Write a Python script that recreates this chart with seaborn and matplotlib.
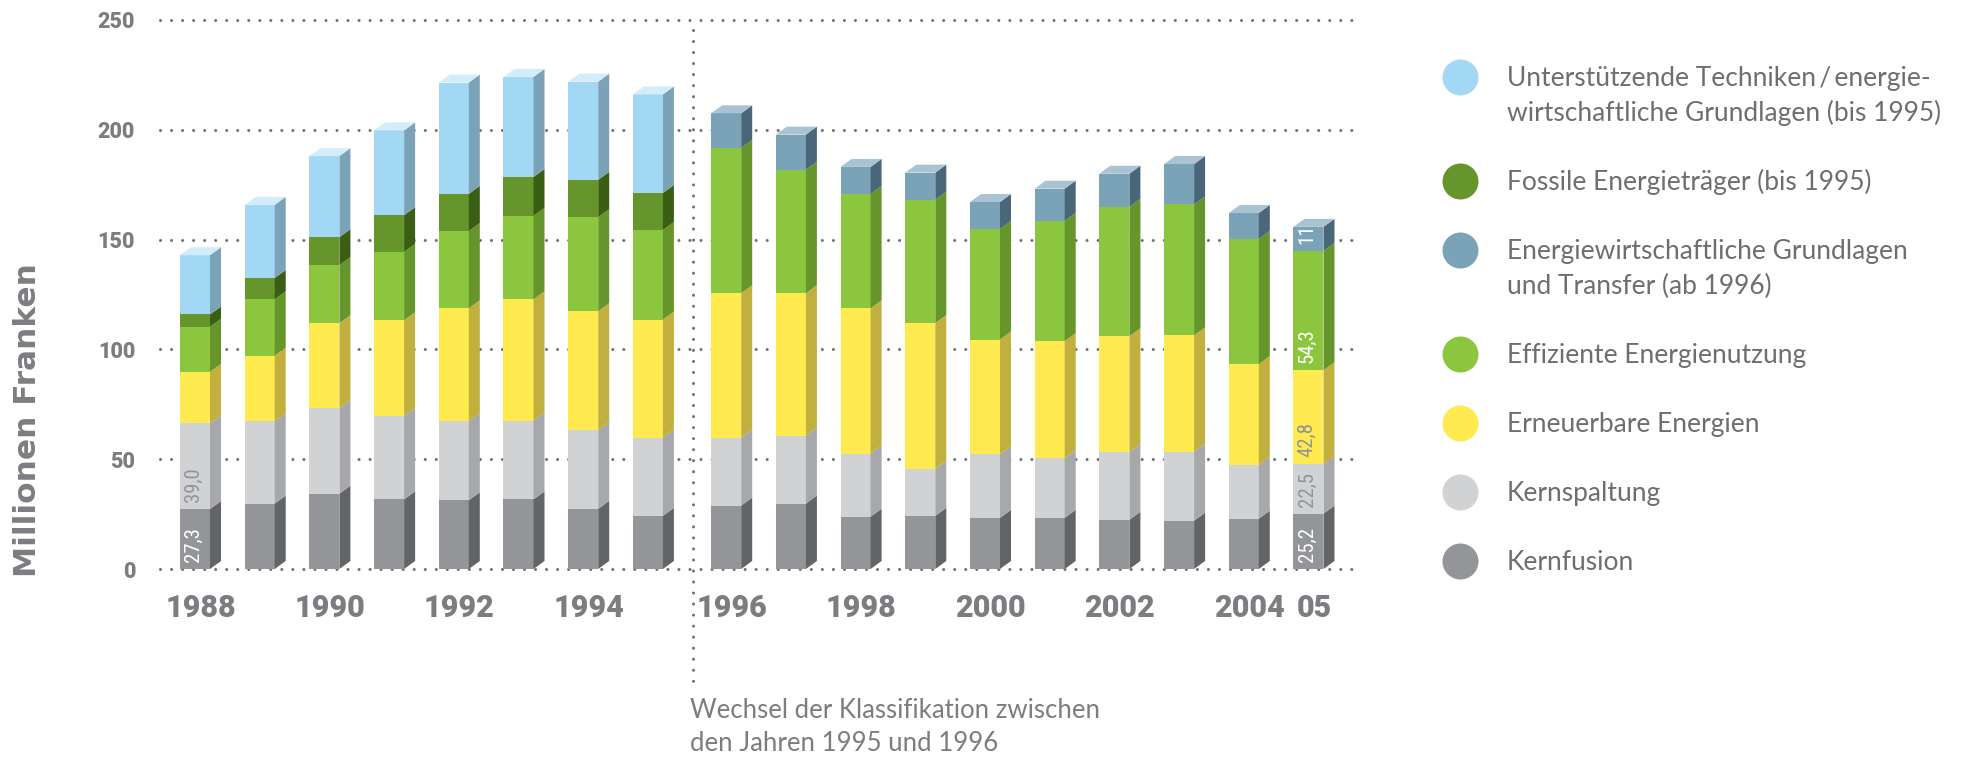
import numpy as np
import matplotlib
matplotlib.use("Agg")
import matplotlib.pyplot as plt
from matplotlib import font_manager
from matplotlib.patches import Polygon
from matplotlib.transforms import blended_transform_factory
import seaborn as sns

# ---------------- data ----------------
years = [1988, 1989, 1990, 1991, 1992, 1993, 1994, 1995, 1996,
         1997, 1998, 1999, 2000, 2001, 2002, 2003, 2004, 2005]
kernfusion = [27.3, 29.8, 34.3, 31.7, 31.3, 31.7, 27.4, 24.2, 28.9,
              29.8, 23.8, 24.2, 23.3, 23.3, 22.4, 22.0, 22.9, 25.2]
kernspaltung = [39.0, 37.5, 38.9, 38.0, 36.0, 35.9, 35.8, 35.6, 30.9,
                30.9, 28.7, 21.4, 28.9, 27.2, 30.7, 31.5, 24.6, 22.5]
erneuerbare = [23.5, 29.9, 38.8, 43.6, 51.4, 55.2, 54.2, 53.8, 65.8,
               64.9, 66.2, 66.4, 52.3, 53.3, 52.9, 52.9, 45.8, 42.8]
effiziente = [20.5, 25.6, 26.4, 31.1, 35.2, 38.0, 42.8, 40.8, 66.1,
              56.2, 52.1, 56.2, 50.3, 54.7, 58.9, 59.6, 57.0, 54.3]
grundlagen_ab1996 = [0, 0, 0, 0, 0, 0, 0, 0, 15.8,
                     16.0, 12.3, 12.3, 12.3, 14.7, 15.1, 18.4, 11.8, 11.0]
fossile_bis1995 = [5.6, 9.7, 12.7, 16.7, 16.9, 17.7, 17.0, 16.8, 0,
                   0, 0, 0, 0, 0, 0, 0, 0, 0]
techniken_bis1995 = [27.0, 33.3, 36.9, 38.6, 50.7, 45.6, 44.7, 44.9, 0,
                     0, 0, 0, 0, 0, 0, 0, 0, 0]

tick_years = [1988, 1990, 1992, 1994, 1996, 1998, 2000, 2002, 2004, 2005]
tick_labels = ["1988", "1990", "1992", "1994", "1996", "1998", "2000", "2002", "2004", "05"]

legend_labels = [
    "Unterstützende Techniken\u2009/\u2009energie-\nwirtschaftliche Grundlagen (bis 1995)",
    "Fossile Energieträger (bis 1995)",
    "Energiewirtschaftliche Grundlagen\nund Transfer (ab 1996)",
    "Effiziente Energienutzung",
    "Erneuerbare Energien",
    "Kernspaltung",
    "Kernfusion",
]
note_text = "Wechsel der Klassifikation zwischen\nden Jahren 1995 und 1996"
y_title = "Millionen Franken"
# which segments carry a value label, per year
value_labels = {1988: ["Kernfusion", "Kernspaltung"],
                2005: ["Kernfusion", "Kernspaltung", "Erneuerbare", "Effiziente", "Grundlagen"]}

# ---------------- style ----------------
sns.set_theme(style="white")
avail = {f.name for f in font_manager.fontManager.ttflist}
def pick(*names):
    for n in names:
        if n in avail:
            return n
    return "DejaVu Sans"
BOLD = pick("Roboto", "Lato", "DejaVu Sans")
REG = pick("Lato", "Roboto", "DejaVu Sans")
NARROW = pick("Liberation Sans Narrow", "DejaVu Sans Condensed", "Roboto Condensed", "Liberation Sans")
plt.rcParams["font.family"] = [REG, "DejaVu Sans"]

TXT = "#7c7d80"
DOT = "#707174"

W, H = 1963, 757
fig = plt.figure(figsize=(W / 100, H / 100), dpi=100)
ax = fig.add_axes([160 / W, 1 - 569 / H, (1353 - 160) / W, (569 - 20) / H])

# x positions: gap between 1995 and 1996 (classification change)
yrs = np.array(years, dtype=float)
xpos = yrs + 0.21 * (yrs >= 1996)

series = [
    ("Kernfusion", kernfusion, "#939598", "#636466", "#b5b6b8", "white", 1),
    ("Kernspaltung", kernspaltung, "#d1d2d4", "#a7a8ab", "#e4e5e6", "#939598", 1),
    ("Erneuerbare", erneuerbare, "#ffea50", "#c1b03e", "#fff4a0", "#939598", 1),
    ("Effiziente", effiziente, "#8cc63f", "#66962b", "#b9dd88", "white", 1),
    ("Grundlagen", grundlagen_ab1996, "#7aa3b8", "#4a6679", "#a9c3d2", "white", 0),
    ("Fossile", fossile_bis1995, "#66962b", "#3a5e13", "#8fb860", "white", 1),
    ("Techniken", techniken_bis1995, "#a3d8f4", "#7aa3b8", "#d3ecf9", "white", 1),
]

BAR_W = 0.464
bottom = np.zeros(len(years))
bottoms = []
for name, vals, c, cs, ct, tc, dec in series:
    v = np.array(vals, dtype=float)
    sns.barplot(x=xpos, y=v, bottom=bottom.copy(), native_scale=True, color=c,
                width=BAR_W, errorbar=None, linewidth=0, edgecolor="none",
                saturation=1, ax=ax, zorder=2)
    bottoms.append(bottom.copy())
    bottom = bottom + v

x_left = xpos[0] - (195 - 160) / 64.7
x_right = x_left + (1353 - 160) / 64.7
ax.set_xlim(x_left, x_right)
ax.set_ylim(0, 250)

# 3D faces (side + top), depth given in pixels
ppx = ax.transData.transform((1, 1)) - ax.transData.transform((0, 0))
dxd, dyd = 11 / ppx[0], 8 / ppx[1]
total = bottom
for si, (name, vals, c, cs, ct, tc, dec) in enumerate(series):
    for i, x in enumerate(xpos):
        v = vals[i]
        if v <= 0:
            continue
        b = bottoms[si][i]
        t = b + v
        x1 = x + BAR_W / 2
        x0 = x - BAR_W / 2
        ax.add_patch(Polygon([(x1, b), (x1, t), (x1 + dxd, t + dyd), (x1 + dxd, b + dyd)],
                             closed=True, facecolor=cs, edgecolor="none", zorder=2))
        if abs(t - total[i]) < 1e-9:
            ax.add_patch(Polygon([(x0, t), (x1, t), (x1 + dxd, t + dyd), (x0 + dxd, t + dyd)],
                                 closed=True, facecolor=ct, edgecolor="none", zorder=2))

# value labels inside bars of 1988 and 2005
for si, (name, vals, c, cs, ct, tc, dec) in enumerate(series):
    for yr, names in value_labels.items():
        if name not in names:
            continue
        i = years.index(yr)
        v = vals[i]
        txt = f"{v:.{dec}f}".replace(".", ",")
        ax.annotate(txt, (xpos[i], bottoms[si][i]), xytext=(-1, 5), textcoords="offset points",
                    rotation=90, ha="center", va="bottom", color=tc,
                    fontsize=15, family=NARROW, zorder=5)

# grid & axes
ax.set_yticks([0, 50, 100, 150, 200, 250])
ax.set_axisbelow(True)
ax.grid(axis="y", color=DOT, linewidth=2.2, linestyle=(0, (0.01, 3.6)), dash_capstyle="round")
ax.grid(axis="x", visible=False)
for gl in ax.get_ygridlines():
    gl.set_clip_on(False)
    gl.set_dash_capstyle("round")
for s in ax.spines.values():
    s.set_visible(False)

tick_pos = [xpos[years.index(y)] + dxd / 2 for y in tick_years]
ax.set_xticks(tick_pos)
ax.set_xticklabels(tick_labels)
ax.tick_params(axis="x", length=0, pad=17, labelsize=22, labelcolor=TXT)
ax.tick_params(axis="y", length=0, pad=18, labelsize=15.5, labelcolor=TXT)
for lab in ax.get_xticklabels() + ax.get_yticklabels():
    lab.set_fontfamily(BOLD)
    lab.set_fontweight("heavy")
ax.set_xlabel("")
ax.set_ylabel("")

# vertical dotted separator between 1995 and 1996
i95, i96 = years.index(1995), years.index(1996)
xv = (xpos[i95] + xpos[i96]) / 2 + dxd / 2
ax.plot([xv, xv], [0.982, -0.205], transform=blended_transform_factory(ax.transData, ax.transAxes),
        clip_on=False, color=DOT, linewidth=2.2, linestyle=(0, (0.01, 3.6)),
        dash_capstyle="round", zorder=1)

# overlay in pixel coordinates for legend & texts
ov = fig.add_axes([0, 0, 1, 1], facecolor="none")
ov.set_xlim(0, W)
ov.set_ylim(H, 0)
ov.set_axis_off()

ov.text(28, 577, y_title, rotation=90, ha="center", va="bottom", color=TXT,
        fontsize=22.5, fontweight="bold", family="DejaVu Sans")

ov.text(690, 698, note_text, ha="left", va="top", color=TXT, fontsize=18.5,
        family=[REG, "DejaVu Sans"], linespacing=1.38)

legend_colors = [series[6][2], series[5][2], series[4][2], series[3][2],
                 series[2][2], series[1][2], series[0][2]]
LEG_FS = 19
LINE_H = 35
cap = 0.72 * LEG_FS * 100 / 72
ycur = 76.5
for lab, col in zip(legend_labels, legend_colors):
    ov.scatter([1460], [ycur], s=672, color=col, linewidths=0)
    for k, line in enumerate(lab.split("\n")):
        ov.text(1507, ycur + cap / 2 + k * LINE_H, line, ha="left", va="baseline",
                color="#6d6e71", fontsize=LEG_FS, family=[REG, "DejaVu Sans"])
    ycur += 69 + LINE_H * lab.count("\n")

fig.savefig("out.png", dpi=100)
